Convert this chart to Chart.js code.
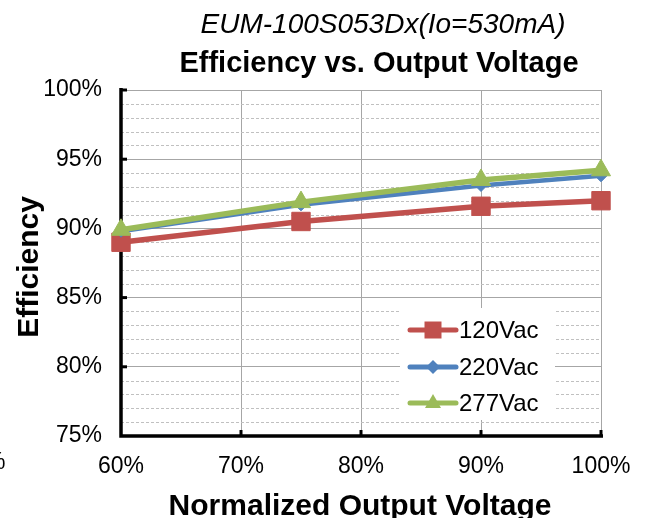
<!DOCTYPE html>
<html>
<head>
<meta charset="utf-8">
<script src="https://cdn.jsdelivr.net/npm/chart.js@4/dist/chart.umd.min.js"></script>
<style>
  html, body { margin: 0; padding: 0; background: #fff; }
  #wrap { width: 645px; height: 518px; position: relative; }
</style>
</head>
<body>
<div id="wrap"><canvas id="c" width="645" height="518"></canvas></div>
<script>
// ---- data ----
const xValues = [60, 75, 90, 100];            // normalized output voltage (%)
const eff120 = [89.0, 90.5, 91.6, 92.0];       // 120Vac efficiency (%)
const eff220 = [89.8, 91.7, 93.1, 93.8];       // 220Vac efficiency (%)
const eff277 = [89.9, 91.9, 93.5, 94.2];       // 277Vac efficiency (%)
const seriesNames = ['120Vac', '220Vac', '277Vac'];
const titleText = 'Efficiency vs. Output Voltage';
const subtitleText = 'EUM-100S053Dx(Io=530mA)';
const xTitle = 'Normalized Output Voltage';
const yTitle = 'Efficiency';

const FONT = "'Liberation Sans', Arial, sans-serif";
const RED = '#C0504D', BLUE = '#4F81BD', GREEN = '#9BBB59';

function pts(vals) { return xValues.map((x, i) => ({ x: x, y: vals[i] })); }

function legendMarker(ctx, style, x, y, color) {
  ctx.fillStyle = color;
  ctx.beginPath();
  if (style === 'rect') {
    ctx.rect(x - 8.5, y - 8.5, 17, 17);
  } else if (style === 'rectRot') {
    ctx.moveTo(x - 7, y); ctx.lineTo(x, y - 7); ctx.lineTo(x + 7, y); ctx.lineTo(x, y + 7); ctx.closePath();
  } else {
    ctx.moveTo(x, y - 9); ctx.lineTo(x + 8, y + 5); ctx.lineTo(x - 8, y + 5); ctx.closePath();
  }
  ctx.fill();
}

const decor = {
  id: 'decor',
  beforeDatasetsDraw(chart) {
    const { ctx, chartArea: a, scales: { y } } = chart;
    ctx.save();
    ctx.strokeStyle = '#c0c0c0';
    ctx.lineWidth = 1;
    ctx.setLineDash([3, 2]);
    for (let v = 76; v < 100; v++) {
      if (v % 5 === 0) continue;
      const py = Math.round(y.getPixelForValue(v)) + 0.5;
      ctx.beginPath(); ctx.moveTo(a.left, py); ctx.lineTo(a.right, py); ctx.stroke();
    }
    ctx.setLineDash([]);
    // black left & bottom axes
    ctx.strokeStyle = '#000';
    ctx.lineWidth = 3.5;
    ctx.beginPath();
    ctx.moveTo(a.left, a.top - 2); ctx.lineTo(a.left, a.bottom);
    ctx.lineTo(a.right + 2, a.bottom);
    ctx.stroke();
    // inward ticks
    ctx.lineWidth = 3;
    for (let v = 80; v <= 100; v += 5) {
      const py = y.getPixelForValue(v);
      ctx.beginPath(); ctx.moveTo(a.left, py); ctx.lineTo(a.left + 6, py); ctx.stroke();
    }
    const xs = chart.scales.x;
    for (let v = 70; v <= 100; v += 10) {
      const px = xs.getPixelForValue(v);
      ctx.beginPath(); ctx.moveTo(px, a.bottom); ctx.lineTo(px, a.bottom - 6); ctx.stroke();
    }
    ctx.restore();
  },
  afterDraw(chart) {
    const { ctx } = chart;
    ctx.save();
    ctx.fillStyle = '#000';
    ctx.textAlign = 'center';
    ctx.textBaseline = 'alphabetic';
    ctx.font = 'italic 28px ' + FONT;
    ctx.fillText(subtitleText, 383, 33);
    ctx.font = 'bold 29px ' + FONT;
    ctx.fillText(titleText, 379, 72);
    ctx.font = 'bold 30px ' + FONT;
    ctx.fillText(xTitle, 360, 515);
    ctx.save();
    ctx.translate(38, 267);
    ctx.rotate(-Math.PI / 2);
    ctx.fillText(yTitle, 0, 0);
    ctx.restore();
    // clipped fragment at left edge
    ctx.textAlign = 'left';
    ctx.textBaseline = 'middle';
    ctx.font = '23px ' + FONT;
    ctx.fillText('%', -15, 463);

    // legend
    ctx.fillStyle = '#fff';
    ctx.fillRect(400, 308, 155, 112);
    const ds = chart.data.datasets;
    const ys = [330, 367, 403];
    ds.forEach((d, i) => {
      const yy = ys[i];
      ctx.strokeStyle = d.borderColor;
      ctx.lineWidth = 5;
      ctx.lineCap = 'round';
      ctx.beginPath(); ctx.moveTo(410, yy); ctx.lineTo(456, yy); ctx.stroke();
      legendMarker(ctx, d.pointStyle, 433, yy, d.pointBackgroundColor);
      ctx.fillStyle = '#000';
      ctx.font = '24px ' + FONT;
      ctx.textAlign = 'left';
      ctx.textBaseline = 'middle';
      ctx.fillText(d.label, 459, yy + 1);
    });
    ctx.restore();
  }
};

new Chart(document.getElementById('c'), {
  type: 'line',
  data: {
    datasets: [
      { label: seriesNames[0], data: pts(eff120), borderColor: RED, backgroundColor: RED,
        pointBackgroundColor: RED, pointBorderColor: RED, pointStyle: 'rect', pointRadius: 13,
        borderWidth: 5.5, pointBorderWidth: 1, order: 3, clip: false },
      { label: seriesNames[1], data: pts(eff220), borderColor: BLUE, backgroundColor: BLUE,
        pointBackgroundColor: BLUE, pointBorderColor: BLUE, pointStyle: 'rectRot', pointRadius: 6,
        borderWidth: 4.5, pointBorderWidth: 1, order: 2, clip: false },
      { label: seriesNames[2], data: pts(eff277), borderColor: GREEN, backgroundColor: GREEN,
        pointBackgroundColor: GREEN, pointBorderColor: GREEN, pointStyle: 'triangle', pointRadius: 11,
        borderWidth: 5.5, pointBorderWidth: 1, order: 1, clip: false }
    ]
  },
  options: {
    responsive: false,
    animation: false,
    devicePixelRatio: 1,
    layout: { padding: { top: 90, right: 44, left: 0, bottom: 0 } },
    plugins: { legend: { display: false }, tooltip: { enabled: false }, title: { display: false } },
    elements: { line: { tension: 0 } },
    scales: {
      x: {
        type: 'linear', min: 60, max: 100,
        ticks: { stepSize: 10, callback: v => v + '%', color: '#000', font: { family: FONT, size: 23 }, padding: 17, maxRotation: 0 },
        grid: { color: '#a6a6a6', lineWidth: 1, drawTicks: false },
        border: { display: false },
        afterFit(s) { s.height = 82; s.paddingLeft = 0; s.paddingRight = 0; }
      },
      y: {
        min: 75, max: 100,
        ticks: { stepSize: 5, callback: v => v + '%', color: '#000', font: { family: FONT, size: 23 }, padding: 19 },
        grid: { color: '#a6a6a6', lineWidth: 1, drawTicks: false },
        border: { display: false },
        afterFit(s) { s.width = 121; s.paddingTop = 0; s.paddingBottom = 0; }
      }
    }
  },
  plugins: [decor]
});
</script>
</body>
</html>
